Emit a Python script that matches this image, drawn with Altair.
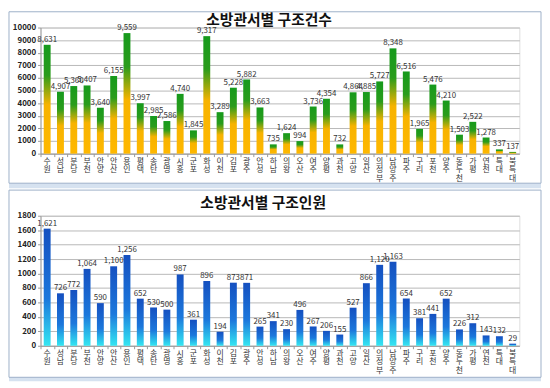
import altair as alt
import pandas as pd

stations = ["수원", "성남", "분당", "부천", "안양", "안산", "용인", "평택", "송탄", "광명",
            "시흥", "군포", "화성", "이천", "김포", "광주", "안성", "하남", "의왕", "오산",
            "여주", "양평", "과천", "고양", "일산", "의정부", "남양주", "파주", "구리", "포천",
            "양주", "동두천", "가평", "연천", "특대", "북특대"]
cases = [8631, 4907, 5360, 5407, 3640, 6155, 9559, 3997, 2985, 2586,
         4740, 1845, 9317, 3289, 5228, 5882, 3663, 735, 1624, 994,
         3736, 4354, 732, 4864, 4885, 5727, 8348, 6516, 1965, 5476,
         4210, 1503, 2522, 1278, 337, 137]
people = [1621, 726, 772, 1064, 590, 1100, 1256, 652, 530, 500,
          987, 361, 896, 194, 873, 871, 265, 341, 230, 496,
          267, 206, 155, 527, 866, 1120, 1163, 654, 381, 441,
          652, 226, 312, 143, 132, 29]
titles = ["소방관서별 구조건수", "소방관서별 구조인원"]

df1 = pd.DataFrame({"station": stations, "value": cases})
df2 = pd.DataFrame({"station": stations, "value": people})

FONT = "Noto Sans CJK KR"
W = 486
BAND = "#d6e2f0"

green_grad = {"gradient": "linear", "x1": 0, "y1": 0, "x2": 0, "y2": 1,
              "stops": [{"offset": 0, "color": "#169a1c"},
                        {"offset": 0.28, "color": "#2a9c1c"},
                        {"offset": 0.55, "color": "#f7b300"},
                        {"offset": 1, "color": "#ffb800"}]}
blue_grad = {"gradient": "linear", "x1": 0, "y1": 0, "x2": 0, "y2": 1,
             "stops": [{"offset": 0, "color": "#1550c0"},
                       {"offset": 0.6, "color": "#1c78dc"},
                       {"offset": 1, "color": "#34e6f2"}]}


def panel(df, title, grad, ymax, step, h, frame_top, frame_bottom, band_h, title_y, title_x):
    x = alt.X("station:N", sort=None, title=None,
              axis=alt.Axis(labelExpr="split(datum.value, '')", labelAngle=0,
                            labelFontSize=8, labelLineHeight=8.5, labelColor="#333",
                            labelFont=FONT, labelPadding=1, domainColor="#999",
                            tickColor="#999", tickSize=3, bandPosition=0))
    y = alt.Y("value:Q", title=None,
              scale=alt.Scale(domain=[0, ymax], nice=False),
              axis=alt.Axis(values=list(range(0, ymax + 1, step)), format="d",
                            labelFontSize=8, labelColor="#222", labelFont=FONT,
                            labelFontWeight="bold",
                            gridColor="#b8b8b8", domainColor="#999",
                            tickColor="#999", tickSize=3))
    tdf = pd.DataFrame({"t": [title]})
    band = alt.Chart(tdf).mark_rect(fill=BAND, strokeWidth=0).encode(
        x=alt.value(-32), x2=alt.value(W + 22),
        y=alt.value(h + frame_bottom), y2=alt.value(h + frame_bottom + band_h))
    frame = alt.Chart(tdf).mark_rect(filled=False, stroke="#9db0c8", strokeWidth=1).encode(
        x=alt.value(-32), x2=alt.value(W + 22),
        y=alt.value(frame_top), y2=alt.value(h + frame_bottom))
    ttl = alt.Chart(tdf).mark_text(fontSize=15, font=FONT, fontWeight="bold",
                                   color="#111", baseline="middle", align="center").encode(
        x=alt.value(title_x), y=alt.value(title_y), text="t:N")
    base = alt.Chart(df).encode(x=x, y=y)
    bars = base.mark_bar(color=grad, size=7)
    text = base.mark_text(dy=-5, fontSize=8, color="#333", font=FONT).encode(
        text=alt.Text("value:Q", format=","))
    return alt.layer(band, frame, bars, text, ttl).properties(width=W, height=h)


top = panel(df1, titles[0], green_grad, 10000, 1000, 128, -16, 30, 5, -8, 232)
bottom = panel(df2, titles[1], blue_grad, 1800, 200, 132, -26, 32, 4, -13, 226)

chart = alt.vconcat(top, bottom, spacing=0).properties(
    padding={"left": 0, "top": 0, "right": 0, "bottom": 0}
).configure_view(stroke=None).configure(background="white")

chart.save("out.html", embed_options={"renderer": "svg", "actions": False})
